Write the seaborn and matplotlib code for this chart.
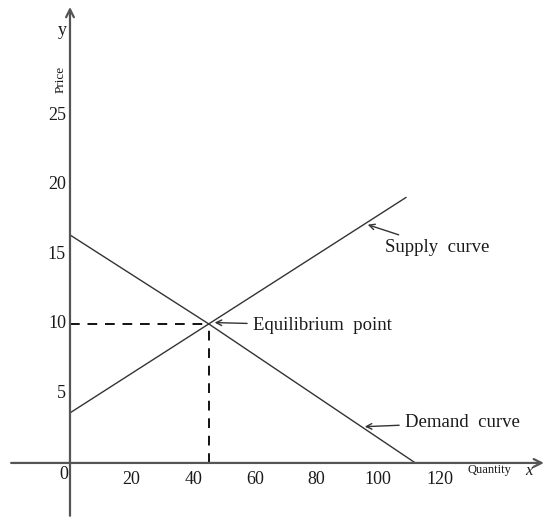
import matplotlib
matplotlib.use("Agg")
import matplotlib.pyplot as plt
import seaborn as sns
import pandas as pd

# Data
supply_q = [0, 45, 109]
supply_p = [3.6, 10, 19.1]
demand_q = [0, 45, 112]
demand_p = [16.4, 10, 0]
eq_q, eq_p = 45, 10

x_ticks = [20, 40, 60, 80, 100, 120]
y_ticks = [5, 10, 15, 20, 25]

sns.set_style("white")
plt.rcParams['font.family'] = ['Liberation Serif', 'DejaVu Serif']

fig = plt.figure(figsize=(5.47, 5.18), dpi=100)
ax = fig.add_axes([0, 0, 1, 1])
ax.set_xlim(-22.7, 154.7)
ax.set_ylim(-3.96, 33.3)
ax.axis('off')

line_col = '#333333'
axis_col = '#555555'
txt_col = '#1a1a1a'

# Supply and demand curves
sup = pd.DataFrame({'q': supply_q, 'p': supply_p})
dem = pd.DataFrame({'q': demand_q, 'p': demand_p})
sns.lineplot(data=sup, x='q', y='p', ax=ax, color=line_col, lw=1.0, sort=False)
sns.lineplot(data=dem, x='q', y='p', ax=ax, color=line_col, lw=1.0, sort=False)

# Dashed guides to the equilibrium point
ax.plot([0, eq_q], [eq_p, eq_p], ls=(0, (5, 4)), color='#111111', lw=1.4)
ax.plot([eq_q, eq_q], [0, eq_p], ls=(0, (5, 4)), color='#111111', lw=1.4)

# Axes with open arrowheads
ax.annotate('', xy=(154.6, 0), xytext=(-20, 0),
            arrowprops=dict(arrowstyle='->', color=axis_col, lw=1.6, mutation_scale=14))
ax.annotate('', xy=(0, 33.0), xytext=(0, -4),
            arrowprops=dict(arrowstyle='->', color=axis_col, lw=1.6, mutation_scale=14))

# Tick labels
for v in x_ticks:
    ax.text(v, -0.6, str(v), ha='center', va='top', fontsize=13, color=txt_col)
for v in y_ticks:
    ax.text(-1.3, v, str(v), ha='right', va='center', fontsize=13, color=txt_col)
ax.text(-0.6, -0.2, '0', ha='right', va='top', fontsize=13, color=txt_col)

# Axis names
ax.text(-2.6, 31.1, 'y', ha='center', va='center', fontsize=13, color=txt_col)
ax.text(-3.2, 27.6, 'Price', ha='center', va='center', rotation=90, fontsize=9.5, color=txt_col)
ax.text(129, -0.5, 'Quantity', ha='left', va='center', fontsize=9, color=txt_col)
ax.text(147.6, -0.55, 'x', ha='left', va='center', fontsize=12, style='italic', color=txt_col)

# Annotations
arrow = dict(arrowstyle='->', color=line_col, lw=1.0, mutation_scale=10)
ax.annotate('Supply  curve', xy=(95.7, 17.2), xytext=(102.2, 15.5),
            ha='left', va='center', fontsize=13.5, color=txt_col, arrowprops=arrow)
ax.annotate('Equilibrium  point', xy=(46.0, 10.1), xytext=(59.4, 9.9),
            ha='left', va='center', fontsize=13.5, color=txt_col, arrowprops=arrow)
ax.annotate('Demand  curve', xy=(94.7, 2.6), xytext=(108.7, 2.9),
            ha='left', va='center', fontsize=13.5, color=txt_col, arrowprops=arrow)

fig.savefig('out.png', dpi=100)
